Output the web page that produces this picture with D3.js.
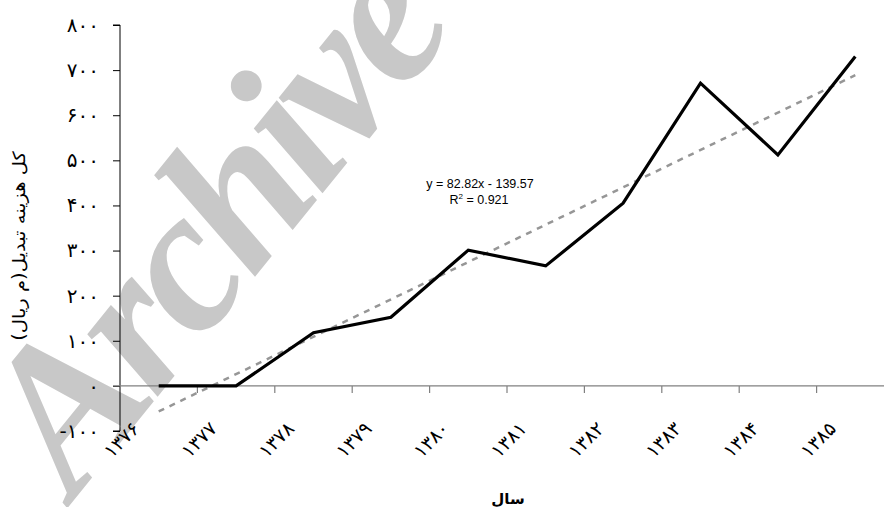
<!DOCTYPE html>
<html>
<head>
<meta charset="utf-8">
<script src="https://cdn.jsdelivr.net/npm/d3@7"></script>
<style>
  html, body { margin: 0; padding: 0; background: #ffffff; }
  svg { display: block; }
</style>
</head>
<body>
<svg id="chart" width="884" height="507"></svg>
<script>
// ---- data ----
const categories = ["۱۳۷۶","۱۳۷۷","۱۳۷۸","۱۳۷۹","۱۳۸۰","۱۳۸۱","۱۳۸۲","۱۳۸۳","۱۳۸۴","۱۳۸۵"];
const costValues = [0, 0, 118, 152, 301, 266, 405, 671, 512, 730];
const yTickValues = [-100, 0, 100, 200, 300, 400, 500, 600, 700, 800];
const yTickLabels = ["-۱۰۰","۰","۱۰۰","۲۰۰","۳۰۰","۴۰۰","۵۰۰","۶۰۰","۷۰۰","۸۰۰"];
const trendSlope = 82.82;
const trendIntercept = -139.57;
const equationLines = ["y = 82.82x - 139.57", "R2 = 0.921"];
const yTitle = "کل هزینه تبدیل(م ریال)";
const xTitle = "سال";
const watermarkText = "Archive";

// ---- layout ----
const svg = d3.select("#chart");
const plotLeft = 120, plotRight = 894, plotTop = 25, plotBottom = 431;

const x = d3.scaleBand().domain(categories).range([plotLeft, plotRight]).padding(0);
const y = d3.scaleLinear().domain([-100, 800]).range([plotBottom, plotTop]);
const cx = c => x(c) + x.bandwidth() / 2;

// watermark (behind chart)
svg.append("text")
  .attr("transform", "translate(74,500) rotate(-51)")
  .attr("font-family", "'Liberation Serif', 'Times New Roman', serif")
  .attr("font-weight", "bold")
  .attr("font-style", "italic")
  .attr("font-size", 205)
  .attr("letter-spacing", "-8px")
  .attr("fill", "#c8c8c8")
  .text(watermarkText);

// y axis
const yAxis = d3.axisLeft(y).tickValues(yTickValues).tickSize(7).tickPadding(14)
  .tickFormat((d, i) => yTickLabels[i]);
const gy = svg.append("g").attr("transform", `translate(${plotLeft},0)`).call(yAxis);
gy.select(".domain").attr("stroke", "#000").attr("d", `M-7,${plotTop}H0V${plotBottom}H-7`);
gy.selectAll(".tick line").attr("stroke", "#000");
gy.selectAll(".tick text")
  .attr("font-family", "'DejaVu Sans', sans-serif")
  .attr("font-size", 20)
  .attr("fill", "#000")
  .attr("direction", "ltr");

// x axis at y = 0
const boundaries = categories.map(c => x(c)).slice(1);
const y0 = y(0);
const gx = svg.append("g");
gx.append("line")
  .attr("x1", plotLeft - 7).attr("x2", 884)
  .attr("y1", y0).attr("y2", y0)
  .attr("stroke", "#808080").attr("stroke-width", 1.2);
gx.selectAll("line.tk").data(boundaries).enter().append("line")
  .attr("class", "tk")
  .attr("x1", d => d).attr("x2", d => d)
  .attr("y1", y0).attr("y2", y0 + 7)
  .attr("stroke", "#808080").attr("stroke-width", 1.2);
gx.selectAll("text").data(categories).enter().append("text")
  .attr("transform", d => `translate(${cx(d) - 18},${y0 + 44}) rotate(-45)`)
  .attr("text-anchor", "end")
  .attr("font-family", "'DejaVu Sans', sans-serif")
  .attr("font-size", 19)
  .attr("fill", "#000")
  .text(d => d);

// trend line
const trendPts = [categories[0], categories[categories.length - 1]].map(c => {
  const idx = categories.indexOf(c) + 1;
  return [cx(c), y(trendSlope * idx + trendIntercept)];
});
svg.append("path")
  .attr("d", d3.line()(trendPts))
  .attr("fill", "none")
  .attr("stroke", "#969696")
  .attr("stroke-width", 2.5)
  .attr("stroke-dasharray", "6,6");

// data line
svg.append("path")
  .datum(categories.map((c, i) => [cx(c), y(costValues[i])]))
  .attr("d", d3.line())
  .attr("fill", "none")
  .attr("stroke", "#000")
  .attr("stroke-width", 3.2)
  .attr("stroke-linejoin", "miter");

// equation
const eq = svg.append("text")
  .attr("font-family", "'Liberation Sans', Arial, sans-serif")
  .attr("font-size", 12.5)
  .attr("fill", "#000")
  .attr("text-anchor", "middle");
eq.append("tspan").attr("x", 480).attr("y", 188).text(equationLines[0]);
const r2 = eq.append("tspan").attr("x", 479).attr("y", 204);
r2.append("tspan").text("R");
r2.append("tspan").attr("font-size", 8).attr("dy", -5).text("2");
r2.append("tspan").attr("dy", 5).text(" = 0.921");

// axis titles
svg.append("text")
  .attr("transform", "translate(25,246) rotate(-90) scale(1.15,1)")
  .attr("text-anchor", "middle")
  .attr("font-family", "'DejaVu Sans', sans-serif")
  .attr("font-size", 17)
  .attr("fill", "#000")
  .attr("direction", "rtl")
  .text(yTitle);

svg.append("text")
  .attr("x", 508).attr("y", 504)
  .attr("text-anchor", "middle")
  .attr("font-family", "'DejaVu Sans', sans-serif")
  .attr("font-size", 15)
  .attr("font-weight", "bold")
  .attr("fill", "#000")
  .text(xTitle);
</script>
</body>
</html>
